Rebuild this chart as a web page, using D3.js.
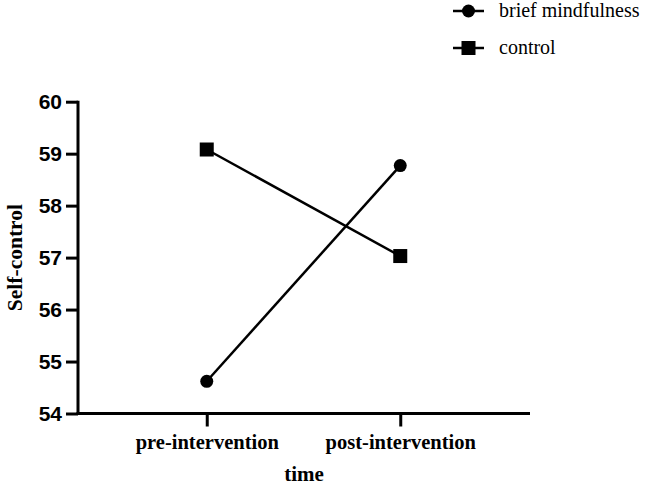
<!DOCTYPE html>
<html>
<head>
<meta charset="utf-8">
<script src="https://cdn.jsdelivr.net/npm/d3@7"></script>
<style>
  body { margin: 0; background: #fff; }
  svg { display: block; }
</style>
</head>
<body>
<div id="chart"></div>
<script>
// data
const timePoints = ["pre-intervention", "post-intervention"];
const mindfulness = [54.62, 58.77];
const control = [59.08, 57.03];
const yTicks = [54, 55, 56, 57, 58, 59, 60];

const series = [
  { name: "brief mindfulness", values: mindfulness, shape: "circle" },
  { name: "control", values: control, shape: "square" }
];

const width = 650, height = 485;
const svg = d3.select("#chart").append("svg")
  .attr("width", width)
  .attr("height", height);

const plotLeft = 78, plotRight = 530, plotTop = 101.7, plotBottom = 413.5;

const x = d3.scalePoint().domain(timePoints).range([plotLeft + 2, plotRight - 3]).padding(0.655);
const y = d3.scaleLinear().domain([54, 60]).range([plotBottom, plotTop]);

const serif = "'Liberation Serif', 'Times New Roman', serif";
const sans = "'Liberation Sans', Arial, sans-serif";

// y axis
const yAxis = svg.append("g")
  .attr("transform", `translate(${plotLeft},0)`)
  .call(d3.axisLeft(y).tickValues(yTicks).tickFormat(d3.format("d"))
    .tickSize(12).tickPadding(4).tickSizeOuter(0));
yAxis.select(".domain").attr("stroke", "#000").attr("stroke-width", 3)
  .attr("d", `M0,${plotBottom + 1.5}V${plotTop - 1}`);
yAxis.selectAll(".tick line").attr("stroke", "#000").attr("stroke-width", 3);
yAxis.selectAll(".tick text")
  .attr("font-family", sans).attr("font-weight", "bold")
  .attr("font-size", 21).attr("fill", "#000");

// x axis
const xAxis = svg.append("g")
  .attr("transform", `translate(0,${plotBottom})`)
  .call(d3.axisBottom(x).tickSize(13).tickPadding(8).tickSizeOuter(0));
xAxis.select(".domain").attr("stroke", "#000").attr("stroke-width", 3)
  .attr("d", `M${plotLeft - 1.5},0H${plotRight}`);
xAxis.selectAll(".tick line").attr("stroke", "#000").attr("stroke-width", 3);
xAxis.selectAll(".tick text")
  .attr("font-family", serif).attr("font-weight", "bold")
  .attr("font-size", 20.5).attr("fill", "#000");

// axis titles
svg.append("text")
  .attr("x", 304).attr("y", 481)
  .attr("text-anchor", "middle")
  .attr("font-family", serif).attr("font-weight", "bold").attr("font-size", 21)
  .text("time");

svg.append("text")
  .attr("transform", `translate(22,${(plotTop + plotBottom) / 2}) rotate(-90)`)
  .attr("text-anchor", "middle")
  .attr("font-family", serif).attr("font-weight", "bold").attr("font-size", 21.5)
  .text("Self-control");

// lines and markers
const line = d3.line().x((d, i) => x(timePoints[i])).y(d => y(d));

function drawMarker(g, shape, cx, cy) {
  if (shape === "circle") {
    g.append("circle").attr("cx", cx).attr("cy", cy).attr("r", 6.5).attr("fill", "#000");
  } else {
    g.append("rect").attr("x", cx - 7).attr("y", cy - 7)
      .attr("width", 14).attr("height", 14).attr("fill", "#000");
  }
}

series.forEach(s => {
  const g = svg.append("g");
  g.append("path")
    .attr("d", line(s.values))
    .attr("fill", "none").attr("stroke", "#000").attr("stroke-width", 2.5);
  s.values.forEach((v, i) => drawMarker(g, s.shape, x(timePoints[i]), y(v)));
});

// legend
const legend = svg.append("g");
series.forEach((s, i) => {
  const ly = 11 + i * 37;
  const g = legend.append("g");
  g.append("line").attr("x1", 453).attr("x2", 484).attr("y1", ly).attr("y2", ly)
    .attr("stroke", "#000").attr("stroke-width", 2.5);
  drawMarker(g, s.shape, 468.5, ly);
  g.append("text").attr("x", 499).attr("y", ly + 6)
    .attr("font-family", serif).attr("font-size", 20).attr("fill", "#000")
    .text(s.name);
});
</script>
</body>
</html>
